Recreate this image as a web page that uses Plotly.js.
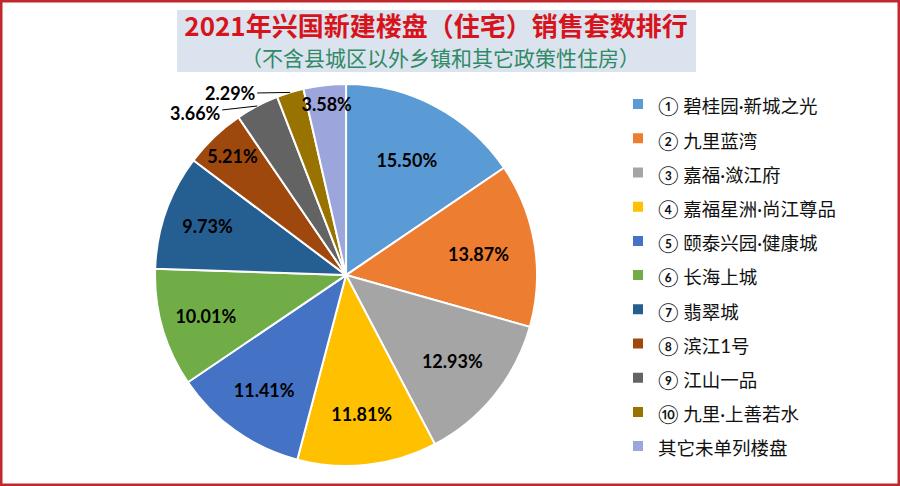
<!DOCTYPE html>
<html>
<head>
<meta charset="utf-8">
<script src="https://cdn.plot.ly/plotly-3.0.1.min.js"></script>
<style>html,body{margin:0;padding:0;background:#fff;}#chart{width:900px;height:486px;}</style>
</head>
<body>
<div id="chart"></div>
<script>
// ---- data ----
const categories = ['① 碧桂园·新城之光','② 九里蓝湾','③ 嘉福·潋江府','④ 嘉福星洲·尚江尊品','⑤ 颐泰兴园·健康城','⑥ 长海上城','⑦ 翡翠城','⑧ 滨江1号','⑨ 江山一品','⑩ 九里·上善若水','其它未单列楼盘'];
const shares = [15.50, 13.87, 12.93, 11.81, 11.41, 10.01, 9.73, 5.21, 3.66, 2.29, 3.58];
const outsideLabelled = [false, false, false, false, false, false, false, false, true, true, false];
const titleText = '2021年兴国新建楼盘（住宅）销售套数排行';
const subtitleText = '（不含县城区以外乡镇和其它政策性住房）';

// ---- style ----
const colors = ['#5B9BD5','#ED7D31','#A5A5A5','#FFC000','#4472C4','#70AD47','#255E91','#9E480E','#636363','#997300','#9DA6DC'];
const W = 900, H = 486;
const domX = [0.172, 0.597], domY = [0.041, 0.827];
const labelFont = {family: 'Lato, "Liberation Sans", sans-serif', size: 18, color: '#000', weight: 700};

const trace = {
  type: 'pie',
  labels: categories.map(c => '<span style="font-size:18.5px">' + c + '</span>'),
  values: shares,
  sort: false,
  direction: 'clockwise',
  rotation: 0,
  marker: {colors: colors, line: {color: '#ffffff', width: 2}},
  texttemplate: '%{value:.2f}%',
  textposition: outsideLabelled.map(o => o ? 'none' : 'inside'),
  insidetextorientation: 'horizontal',
  textfont: labelFont,
  hoverinfo: 'none',
  domain: {x: domX, y: domY}
};

// leader-line labels for the two small slices, positioned from the slice geometry
const total = shares.reduce((a, b) => a + b, 0);
const cxPx = (domX[0] + domX[1]) / 2 * W;
const cyPx = H - (domY[0] + domY[1]) / 2 * H;
const R = Math.min((domX[1] - domX[0]) * W, (domY[1] - domY[0]) * H) / 2;
const offsets = {8: [-62, 7], 9: [-60, 1]};
const annotations = [];
let cum = 0;
shares.forEach((v, i) => {
  const mid = 2 * Math.PI * (cum + v / 2) / total;
  cum += v;
  if (!outsideLabelled[i]) return;
  const px = cxPx + R * Math.sin(mid), py = cyPx - R * Math.cos(mid);
  annotations.push({
    xref: 'paper', yref: 'paper', x: px / W, y: 1 - py / H,
    text: v.toFixed(2) + '%', font: labelFont,
    showarrow: true, arrowhead: 0, arrowwidth: 1, arrowcolor: '#000',
    ax: offsets[i][0], ay: offsets[i][1], standoff: 0
  });
});
annotations.push({
  xref: 'paper', yref: 'paper', x: 440 / W, y: 1 - 56.5 / H, xanchor: 'center', yanchor: 'middle',
  text: subtitleText, showarrow: false,
  font: {family: '"Noto Sans CJK SC", sans-serif', size: 21, color: '#2F8A67'}
});

const layout = {
  width: W, height: H,
  margin: {l: 0, r: 0, t: 0, b: 0},
  paper_bgcolor: '#ffffff',
  title: {
    text: titleText, x: 436 / W, xanchor: 'center', y: 1 - 26.5 / H, yanchor: 'middle',
    font: {family: '"Noto Sans CJK SC", sans-serif', size: 26, color: '#D7141C', weight: 700}
  },
  showlegend: true,
  legend: {
    x: 618 / W, xanchor: 'left', y: 1 - 82 / H, yanchor: 'top',
    font: {family: 'Lato, "Noto Sans CJK SC", sans-serif', size: 24, color: '#111'},
    bgcolor: 'rgba(0,0,0,0)', borderwidth: 0
  },
  uniformtext: {mode: 'show', minsize: 18},
  shapes: [
    {type: 'rect', xref: 'paper', yref: 'paper', x0: 177 / W, x1: 696 / W, y0: 1 - 72 / H, y1: 1 - 10 / H,
     fillcolor: '#DBE3EE', line: {width: 0}, layer: 'below'},
    {type: 'rect', xref: 'paper', yref: 'paper', x0: 0, x1: 1, y0: 0, y1: 1,
     fillcolor: 'rgba(0,0,0,0)', line: {color: '#C0282E', width: 5}}
  ],
  annotations: annotations
};

Plotly.newPlot('chart', [trace], layout, {displayModeBar: false, staticPlot: true});
</script>
</body>
</html>
